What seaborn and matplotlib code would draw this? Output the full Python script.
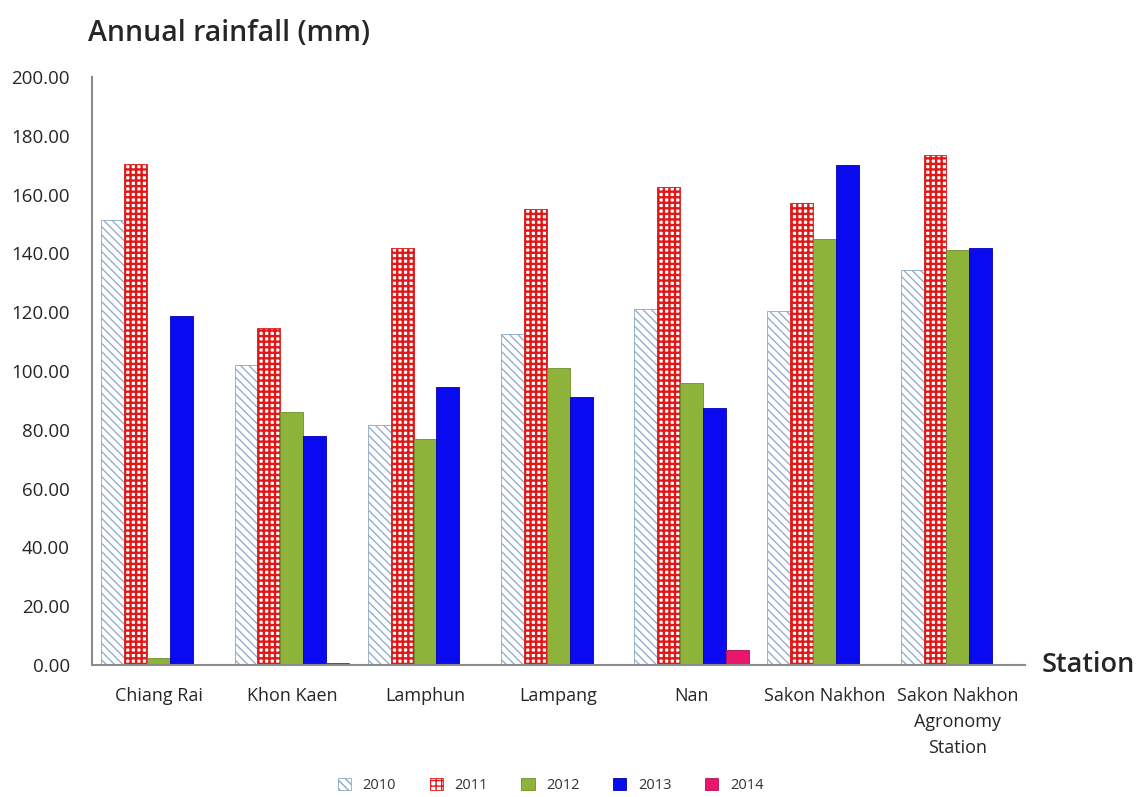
import pandas as pd
import matplotlib.pyplot as plt
import matplotlib.patches as mpatches
import seaborn as sns

stations = ['Chiang Rai', 'Khon Kaen', 'Lamphun', 'Lampang', 'Nan',
            'Sakon Nakhon', 'Sakon Nakhon\nAgronomy\nStation']
years = ['2010', '2011', '2012', '2013', '2014']
rain_2010 = [151.5, 102.0, 81.5, 112.5, 121.0, 120.5, 134.5]
rain_2011 = [170.3, 114.5, 142.0, 155.0, 162.5, 157.0, 173.5]
rain_2012 = [2.5, 86.0, 77.0, 101.0, 96.0, 145.0, 141.0]
rain_2013 = [118.7, 78.0, 94.5, 91.0, 87.5, 170.0, 142.0]
rain_2014 = [0.0, 0.6, 0.0, 0.0, 5.2, 0.0, 0.0]

series = [rain_2010, rain_2011, rain_2012, rain_2013, rain_2014]
rows = []
for yr, vals in zip(years, series):
    for st, v in zip(stations, vals):
        rows.append({'station': st, 'year': yr, 'rain': v})
df = pd.DataFrame(rows)

face = ['white', 'white', '#8db33a', '#0a0af0', '#e8166c']
edge = ['#8aa8c8', '#e01818', '#6e8f2a', '#0000b0', '#b0104f']
hatch = ['\\\\\\\\', '+++', '', '', '']
hatch_lw = [0.9, 1.7, 1.0, 1.0, 1.0]

sns.set_style('white')
plt.rcParams['font.family'] = ['Open Sans', 'DejaVu Sans']
plt.rcParams['hatch.linewidth'] = 1.0

fig = plt.figure(figsize=(11.4, 7.97), dpi=100)
ax = fig.add_axes([0.0807, 0.1656, 0.818, 0.7378])

sns.barplot(data=df, x='station', y='rain', hue='year', width=0.86,
            palette=dict(zip(years, face)), ax=ax, legend=False,
            saturation=1)


def style_patch(p, i):
    p.set_facecolor(face[i])
    p.set_edgecolor(edge[i])
    p.set_hatch(hatch[i])
    p.set_linewidth(0.6)
    if hasattr(p, 'set_hatch_linewidth'):
        p.set_hatch_linewidth(hatch_lw[i])


for i, cont in enumerate(ax.containers):
    for p in cont:
        style_patch(p, i)

ax.set_ylim(0, 200)
ax.set_xlim(-0.5, 6.5)
ax.set_yticks(range(0, 201, 20))
ax.set_yticklabels([f'{v:.2f}' for v in range(0, 201, 20)], fontsize=13.5)
ax.set_xticks(range(len(stations)))
ax.set_xticklabels(stations, fontsize=13, linespacing=1.55)
ax.tick_params(axis='x', length=0, pad=16)
ax.tick_params(axis='y', length=0, pad=16)
ax.set_xlabel('')
ax.set_ylabel('')
for s in ['top', 'right']:
    ax.spines[s].set_visible(False)
for s in ['left', 'bottom']:
    ax.spines[s].set_color('#8c8c8c')
    ax.spines[s].set_linewidth(1.5)

fig.text(0.077, 0.958, 'Annual rainfall (mm)', fontsize=20.5, fontweight='semibold',
         va='center', ha='left')
fig.text(0.914, 0.1656, 'Station', fontsize=19.5, fontweight='semibold',
         va='center', ha='left')

handles = []
for i in range(5):
    h = mpatches.Patch(label=years[i])
    style_patch(h, i)
    handles.append(h)
fig.legend(handles=handles, loc='center', bbox_to_anchor=(0.483, 0.014), ncol=5,
           frameon=False, fontsize=10.5, handlelength=0.9, handleheight=0.9,
           columnspacing=2.3, labelcolor='#333333')

fig.savefig('out.png', dpi=100)
